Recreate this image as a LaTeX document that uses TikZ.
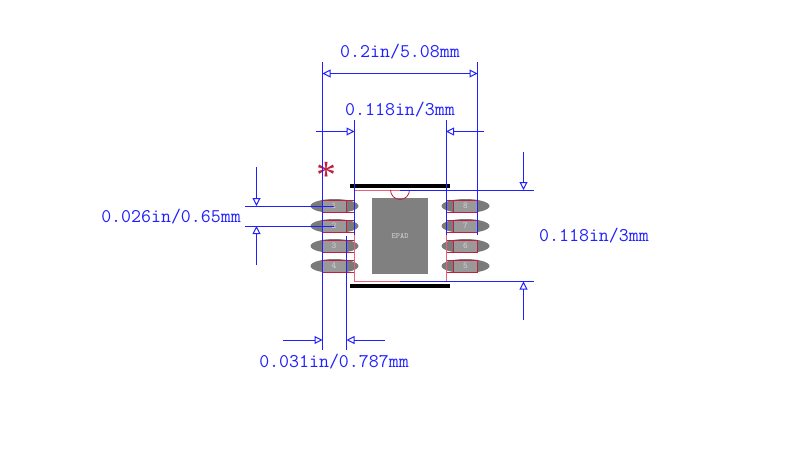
\documentclass[tikz,border=0pt]{standalone}
\usepackage{fontspec}
\newfontfamily\serifstar{Liberation Serif}
\usetikzlibrary{arrows.meta}
\definecolor{dimblue}{HTML}{2020FF}
\definecolor{padred}{HTML}{C0203F}
\definecolor{framered}{HTML}{E8607A}
\tikzset{
  dimline/.style={draw=dimblue,line width=1pt},
  dimarrow/.style={dimline,-{Triangle[open,length=8pt,width=8pt]}},
  dimlabel/.style={text=dimblue,font=\ttfamily\fontsize{19.35pt}{20pt}\selectfont,inner sep=0pt},
  pinlabel/.style={text=black!18,font=\ttfamily\fontsize{9pt}{10pt}\selectfont,inner sep=0pt},
  blob/.style={fill=black!52,draw=none},
  padfill/.style={fill=black!40,draw=padred,line width=1pt},
  padstub/.style={draw=padred,line width=1pt},
  barblack/.style={fill=black,draw=none},
  frame/.style={draw=framered,line width=1pt}
}
\begin{document}
\begin{tikzpicture}[x=1pt,y=-1pt]
\useasboundingbox (0,0) rectangle (800,475);
% pads
\foreach \yy in {206,226,246,266}{
  \fill[blob] (334.5,\yy) ellipse [x radius=24,y radius=7];
  \fill[blob] (465.5,\yy) ellipse [x radius=24,y radius=7];
  \draw[padfill] (322.5,\yy-6) rectangle (346.5,\yy+6);
  \draw[padstub] (346.5,\yy-6) -- (354,\yy-6) (346.5,\yy+6) -- (354,\yy+6);
  \draw[padfill] (453.5,\yy-6) rectangle (477.5,\yy+6);
  \draw[padstub] (453.5,\yy-6) -- (446,\yy-6) -- (446,\yy+6) -- (453.5,\yy+6);
}
% body
\draw[frame] (354.5,190) rectangle (446,281.5);
\fill[barblack] (350,184) rectangle (450,188);
\fill[barblack] (350,283.5) rectangle (450,287.5);
\fill[black!50] (372,198) rectangle (428,274);
\draw[padred,line width=0.8pt] (390.5,190) arc[start angle=180,end angle=0,radius=9.5];
\node[pinlabel,font=\ttfamily\fontsize{8pt}{9pt}\selectfont] (epad) at (400,236) {EPAD};
\node[pinlabel] (p1) at (334,206) {1};
\node[pinlabel] (p2) at (334,226) {2};
\node[pinlabel] (p3) at (334,246) {3};
\node[pinlabel] (p4) at (334,266) {4};
\node[pinlabel] (p8) at (465.5,206) {8};
\node[pinlabel] (p7) at (465.5,226) {7};
\node[pinlabel] (p6) at (465.5,246) {6};
\node[pinlabel] (p5) at (465.5,266) {5};
\node[text=padred,font=\serifstar\fontsize{40pt}{40pt}\selectfont,inner sep=0pt,anchor=base] (star) at (326.5,188.5) {*};
% extension lines
\coordinate (a1) at (322.5,62);   \coordinate (a2) at (322.5,350);
\coordinate (b1) at (477.5,62);   \coordinate (b2) at (477.5,235);
\coordinate (c1) at (354.5,120);  \coordinate (c2) at (354.5,235);
\coordinate (d1) at (446,120);    \coordinate (d2) at (446,235);
\coordinate (e1) at (346.5,236);  \coordinate (e2) at (346.5,350);
\draw[dimline] (a1)--(a2) (b1)--(b2) (c1)--(c2) (d1)--(d2) (e1)--(e2);
\coordinate (f1) at (400,190);   \coordinate (f2) at (534,190);
\coordinate (g1) at (400,281.5);   \coordinate (g2) at (534,281.5);
\coordinate (h1) at (245,206);   \coordinate (h2) at (334,206);
\coordinate (i1) at (245,226);   \coordinate (i2) at (334,226);
\draw[dimline] (f1)--(f2) (g1)--(g2) (h1)--(h2) (i1)--(i2);
% dimension arrows
\draw[dimarrow,{Triangle[open,length=8pt,width=8pt]}-{Triangle[open,length=8pt,width=8pt]}] (322.5,73.5) -- (477.5,73.5);
\coordinate (t1) at (316,131.5); \coordinate (t2) at (484,131.5);
\draw[dimarrow] (t1) -- (354.5,131.5);
\draw[dimarrow] (t2) -- (446,131.5);
\coordinate (r1) at (523.5,152); \coordinate (r2) at (523.5,320);
\draw[dimarrow] (r1) -- (523.5,190);
\draw[dimarrow] (r2) -- (523.5,281.5);
\coordinate (l1) at (256.5,167); \coordinate (l2) at (256.5,265);
\draw[dimarrow] (l1) -- (256.5,206);
\draw[dimarrow] (l2) -- (256.5,226);
\coordinate (u1) at (283,340); \coordinate (u2) at (385,340);
\draw[dimarrow] (u1) -- (322.5,340);
\draw[dimarrow] (u2) -- (346.5,340);
% labels
\node[dimlabel] (w) at (400,52) {0.2in/5.08mm};
\node[dimlabel] (x) at (400,110) {0.118in/3mm};
\node[dimlabel] (y) at (171,217) {0.026in/0.65mm};
\node[dimlabel] (z) at (594,236) {0.118in/3mm};
\node[dimlabel] (v) at (334,362) {0.031in/0.787mm};
\end{tikzpicture}
\end{document}
